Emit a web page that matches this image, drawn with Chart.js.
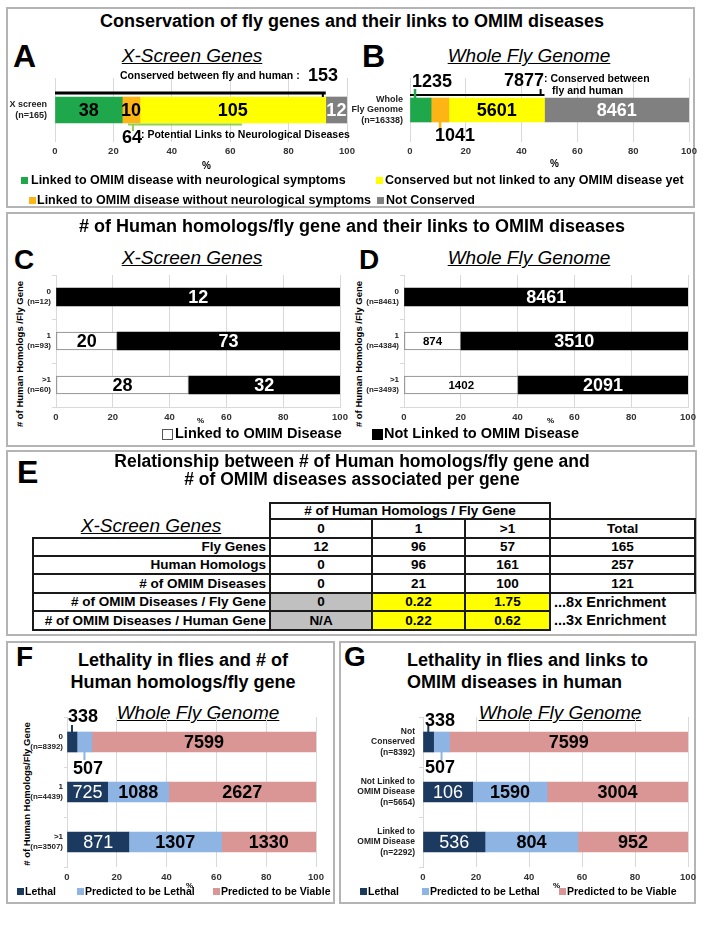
<!DOCTYPE html>
<html>
<head>
<meta charset="utf-8">
<script src="https://cdn.jsdelivr.net/npm/chart.js@4.4.0/dist/chart.umd.min.js"></script>
<style>
  body { margin: 0; background: #fff; font-family: "Liberation Sans", Arial, Helvetica, sans-serif; }
  #page { position: relative; width: 704px; height: 935px; overflow: hidden; background: #fff; }
  .box { position: absolute; border: 2px solid #b4b4b4; box-sizing: border-box; }
  .t { position: absolute; white-space: nowrap; line-height: 1; font-weight: bold; color: #000; }
  .sq { position: absolute; box-sizing: border-box; }
  canvas { position: absolute; }
  #tbl { position: absolute; left: 32px; top: 502px; width: 662px; border-collapse: collapse; table-layout: fixed;
         font-weight: bold; font-size: 13.5px; }
  #tbl td { padding: 0; line-height: 1; text-align: center; white-space: nowrap; overflow: visible; }
  #tbl td.b { border: 2px solid #1a1a1a; }
  #tbl td.lab { text-align: right; padding-right: 3px; }
  #tbl td.gray { background: #c0c0c0; }
  #tbl td.yel { background: #ffff00; }
  #tbl td.note { text-align: left; padding-left: 3px; border: none; font-size: 14.5px; }
</style>
</head>
<body>
<div id="page">
  <div class="box" style="left:6px;top:7px;width:689px;height:201px"></div>
  <div class="box" style="left:6px;top:212px;width:689px;height:235px"></div>
  <div class="box" style="left:6px;top:450px;width:691px;height:186px"></div>
  <div class="box" style="left:6px;top:641px;width:329px;height:263px"></div>
  <div class="box" style="left:339px;top:641px;width:357px;height:263px"></div>
</div>
<script>
// --- Data: panels A / B ---
const conservationSeries = [
  "Linked to OMIM disease with neurological symptoms",
  "Linked to OMIM disease without neurological symptoms",
  "Conserved but not linked to any OMIM disease yet",
  "Not Conserved"
];
const conservationColors = ["#1ea84b", "#fdb515", "#ffff00", "#808080"];
const xScreenCounts = [38, 10, 105, 12];      // n=165
const xScreenConserved = 153;
const xScreenNeuroLinks = 64;
const neuroLinkSpan = [25, 64, 26.7];         // % from, % to, tick
const genomeCounts = [1235, 1041, 5601, 8461]; // n=16338
const genomeConserved = 7877;
const genomeTicks = [1.8, 10.8];              // % positions of the small pointers

// --- Data: panels C / D ---
const homologCats = ["0", "1", ">1"];
const xScreenHomologN = [12, 93, 60];
const xScreenLinked = [0, 20, 28];
const xScreenNotLinked = [12, 73, 32];
const genomeHomologN = [8461, 4384, 3493];
const genomeLinked = [0, 874, 1402];
const genomeNotLinked = [8461, 3510, 2091];

// --- Data: panel E table ---
const tableHeads = ["0", "1", ">1", "Total"];
const tableRowNames = ["Fly Genes", "Human Homologs", "# of OMIM Diseases",
  "# of OMIM Diseases / Fly Gene", "# of OMIM Diseases / Human Gene"];
const tableFlyGenes = ["12", "96", "57", "165"];
const tableHumanHomologs = ["0", "96", "161", "257"];
const tableOmim = ["0", "21", "100", "121"];
const tableOmimPerFly = ["0", "0.22", "1.75", "...8x Enrichment"];
const tableOmimPerHuman = ["N/A", "0.22", "0.62", "...3x Enrichment"];

// --- Data: panels F / G ---
const lethalSeries = ["Lethal", "Predicted to be Lethal", "Predicted to be Viable"];
const lethalColors = ["#1c3a60", "#8db4e2", "#d99694"];
const fCats = ["0", "1", ">1"];
const fN = [8392, 4439, 3507];
const fLethal = [338, 725, 871];
const fPredLethal = [507, 1088, 1307];
const fViable = [7599, 2627, 1330];
const gCats = [["Not", "Conserved"], ["Not Linked to", "OMIM Disease"], ["Linked to", "OMIM Disease"]];
const gN = [8392, 5654, 2292];
const gLethal = [338, 1060, 536];
const gLethalText = ["338", "106", "536"];
const gPredLethal = [507, 1590, 804];
const gViable = [7599, 3004, 952];

// --- Helpers ---
const FONT = '"Liberation Sans", Arial, Helvetica, sans-serif';
Chart.defaults.font.family = FONT;
Chart.defaults.animation = false;
const page = document.getElementById("page");

function txt(s, x, cy, size, o = {}) {
  const d = document.createElement("div");
  d.className = "t";
  d.textContent = s;
  d.style.fontSize = size + "px";
  d.style.top = (cy - size * 0.52) + "px";
  if (o.align === "center") {
    d.style.left = x + "px";
    d.style.transform = "translateX(-50%)";
  } else if (o.align === "right") {
    d.style.right = (704 - x) + "px";
  } else {
    d.style.left = x + "px";
  }
  if (o.rotate) {
    d.style.top = cy + "px";
    d.style.transform = "translate(-50%,-50%) rotate(-90deg)";
  }
  if (o.italic) { d.style.fontStyle = "italic"; d.style.fontWeight = "normal"; }
  if (o.underline) d.style.textDecoration = "underline";
  if (o.normal) d.style.fontWeight = "normal";
  page.appendChild(d);
  return d;
}

function sq(x, cy, size, color, border) {
  const d = document.createElement("div");
  d.className = "sq";
  d.style.left = x + "px";
  d.style.top = (cy - size / 2) + "px";
  d.style.width = size + "px";
  d.style.height = size + "px";
  d.style.background = color;
  if (border) d.style.border = "1px solid " + border;
  page.appendChild(d);
}

function toPct(seriesList) {
  const n = seriesList[0].length;
  const sums = [];
  for (let j = 0; j < n; j++) sums.push(seriesList.reduce((a, s) => a + s[j], 0));
  return seriesList.map(s => s.map((v, j) => v / sums[j] * 100));
}

const sum = arr => arr.reduce((a, b) => a + b, 0);

// text centred on each bar segment
const barText = {
  id: "barText",
  afterDatasetsDraw(chart) {
    const ctx = chart.ctx;
    chart.data.datasets.forEach((ds, i) => {
      if (!ds.texts) return;
      chart.getDatasetMeta(i).data.forEach((bar, j) => {
        const t = ds.texts[j];
        if (!t) return;
        ctx.save();
        ctx.font = ds.tFont || "bold 18px " + FONT;
        ctx.fillStyle = ds.tColor || "#000";
        ctx.textAlign = "center";
        ctx.textBaseline = "middle";
        ctx.fillText(t, (bar.x + bar.base) / 2, bar.y + 1);
        ctx.restore();
      });
    });
  }
};

// brackets and pointer ticks, placed in % units on the x scale
const callouts = {
  id: "callouts",
  afterDatasetsDraw(chart, args, o) {
    if (!o.lines || !o.lines.length) return;
    const ctx = chart.ctx;
    const xs = chart.scales.x;
    const bar = chart.getDatasetMeta(0).data[0];
    const top = bar.y - bar.height / 2;
    const bottom = bar.y + bar.height / 2;
    o.lines.forEach(l => {
      const ref = l.edge === "bottom" ? bottom : top;
      ctx.save();
      ctx.strokeStyle = l.color;
      ctx.lineWidth = l.width || 2;
      ctx.beginPath();
      if (l.to !== undefined) {
        ctx.moveTo(xs.getPixelForValue(l.from), ref + l.dy);
        ctx.lineTo(xs.getPixelForValue(l.to), ref + l.dy);
      } else {
        const x = xs.getPixelForValue(l.at);
        ctx.moveTo(x, ref + l.y1);
        ctx.lineTo(x, ref + l.y2);
      }
      ctx.stroke();
      ctx.restore();
    });
  }
};

function hbar(box, labels, datasets, lines) {
  const c = document.createElement("canvas");
  c.width = box.x1 - box.x0 + box.yw + 16;
  c.height = box.y1 - box.y0 + box.xh;
  c.style.left = (box.x0 - box.yw) + "px";
  c.style.top = box.y0 + "px";
  page.appendChild(c);
  return new Chart(c, {
    type: "bar",
    data: {
      labels,
      datasets: datasets.map(d => Object.assign({ barThickness: box.bar, borderSkipped: false, borderWidth: 0 }, d))
    },
    options: {
      indexAxis: "y",
      responsive: false,
      animation: false,
      layout: { padding: { left: 0, right: 16, top: 0, bottom: 0 } },
      plugins: {
        legend: { display: false },
        tooltip: { enabled: false },
        callouts: { lines: lines || [] }
      },
      scales: {
        x: {
          stacked: true, min: 0, max: 100,
          ticks: { stepSize: 20, padding: box.tp, color: "#333", font: { size: 9.5, weight: "bold" }, maxRotation: 0 },
          grid: { color: "#d9d9d9", drawTicks: false },
          border: { display: !!box.xBorder, color: "#d9d9d9" },
          afterFit(s) { s.height = box.xh; s.paddingLeft = 0; s.paddingRight = 0; }
        },
        y: {
          stacked: true,
          ticks: { padding: box.lp, color: "#222", font: { size: box.lf, weight: "bold", lineHeight: box.lh || 1.2 }, autoSkip: false },
          grid: { drawOnChartArea: false, drawTicks: box.tl > 0, tickLength: box.tl || 0, color: "#d9d9d9" },
          border: { display: box.yBorder !== false, color: "#d9d9d9" },
          afterFit(s) { s.width = box.yw; s.paddingTop = 0; s.paddingBottom = 0; }
        }
      }
    },
    plugins: [barText, callouts]
  });
}

// ================= Panel A / B =================
txt("Conservation of fly genes and their links to OMIM diseases", 352, 21, 18, { align: "center" });
txt("A", 13, 57, 32);
txt("B", 362, 57, 32);
txt("X-Screen Genes", 192, 56, 19, { align: "center", italic: true, underline: true });
txt("Whole Fly Genome", 529, 56, 19, { align: "center", italic: true, underline: true });

const aPct = toPct(xScreenCounts.map(v => [v]));
const aConsPct = xScreenConserved / sum(xScreenCounts) * 100;
hbar({ x0: 55, x1: 347, y0: 78, y1: 142, yw: 54, xh: 22, tp: 4, lp: 8, lf: 9, tl: 0, bar: 26, yBorder: false },
  [["X screen", "(n=" + sum(xScreenCounts) + ")"]],
  conservationSeries.map((name, i) => ({
    label: name, data: aPct[i], backgroundColor: conservationColors[i],
    texts: [String(xScreenCounts[i])], tColor: i === 3 ? "#fff" : "#000"
  })),
  [
    { from: 0, to: aConsPct, edge: "top", dy: -4, color: "#000", width: 3 },
    { at: aConsPct - 1, edge: "top", y1: -4, y2: 0, color: "#000", width: 2 },
    { from: neuroLinkSpan[0], to: neuroLinkSpan[1], edge: "bottom", dy: 1.5, color: "#92d050", width: 2 },
    { at: neuroLinkSpan[2], edge: "bottom", y1: 1.5, y2: 8, color: "#92d050", width: 2 }
  ]);
txt("Conserved between fly and human :", 120, 75, 10.5);
txt(String(xScreenConserved), 308, 75, 18);
txt(String(xScreenNeuroLinks), 122, 137, 18);
txt(": Potential Links to Neurological Diseases", 141, 134, 10.5);
txt("%", 202, 166, 10);

const bPct = toPct(genomeCounts.map(v => [v]));
const bConsPct = genomeConserved / sum(genomeCounts) * 100;
hbar({ x0: 410, x1: 689, y0: 78, y1: 142, yw: 60, xh: 22, tp: 4, lp: 7, lf: 9, tl: 0, bar: 24, lh: 1.15, yBorder: false },
  [["Whole", "Fly Genome", "(n=" + sum(genomeCounts) + ")"]],
  conservationSeries.map((name, i) => ({
    label: name, data: bPct[i], backgroundColor: conservationColors[i],
    texts: [i >= 2 ? String(genomeCounts[i]) : ""], tColor: i === 3 ? "#fff" : "#000"
  })),
  [
    { from: 0, to: bConsPct, edge: "top", dy: -3, color: "#000", width: 2 },
    { at: bConsPct - 1.4, edge: "top", y1: -9, y2: -3, color: "#000", width: 2 },
    { at: genomeTicks[0], edge: "top", y1: -9, y2: 0, color: conservationColors[0], width: 2.5 },
    { at: genomeTicks[1], edge: "bottom", y1: 0, y2: 6, color: conservationColors[1], width: 2.5 }
  ]);
txt(String(genomeCounts[0]), 412, 81, 18);
txt(String(genomeConserved), 504, 80, 18);
txt(": Conserved between", 544, 78, 10.5);
txt("fly and human", 552, 90, 10.5);
txt(String(genomeCounts[1]), 435, 135, 18);
txt("%", 550, 164, 10);

// legend
sq(21, 180, 7, conservationColors[0]);
txt(conservationSeries[0], 31, 180, 12.5);
sq(29, 200, 7, conservationColors[1]);
txt(conservationSeries[1], 37, 200, 12.5);
sq(376, 180, 7, conservationColors[2]);
txt(conservationSeries[2], 385, 180, 12.5);
sq(377, 200, 7, conservationColors[3]);
txt(conservationSeries[3], 386, 200, 12.5);

// ================= Panel C / D =================
txt("# of Human homologs/fly gene and their links to OMIM diseases", 352, 226, 18, { align: "center" });
txt("C", 14, 261, 28);
txt("D", 359, 261, 28);
txt("X-Screen Genes", 192, 258, 19, { align: "center", italic: true, underline: true });
txt("Whole Fly Genome", 529, 258, 19, { align: "center", italic: true, underline: true });
txt("# of Human Homologs /Fly Gene", 20, 354, 9.5, { rotate: true });
txt("# of Human Homologs /Fly Gene", 359, 354, 9.5, { rotate: true });

function linkSets(linked, notLinked, smallLinked) {
  const p = toPct([linked, notLinked]);
  return [
    { label: "Linked to OMIM Disease", data: p[0], backgroundColor: "#fff", borderColor: "#7f7f7f", borderWidth: 1,
      texts: linked.map(v => v ? String(v) : ""), tColor: "#000",
      tFont: (smallLinked ? "bold 11.5px " : "bold 18px ") + FONT },
    { label: "Not Linked to OMIM Disease", data: p[1], backgroundColor: "#000",
      texts: notLinked.map(v => v ? String(v) : ""), tColor: "#fff", tFont: "bold 18px " + FONT }
  ];
}
hbar({ x0: 56, x1: 340, y0: 275, y1: 407, yw: 46, xh: 22, tp: 5, lp: 1, lf: 8, tl: 4, bar: 18, xBorder: true },
  homologCats.map((c, i) => [c, "(n=" + xScreenHomologN[i] + ")"]),
  linkSets(xScreenLinked, xScreenNotLinked, false));
hbar({ x0: 404, x1: 688, y0: 275, y1: 407, yw: 46, xh: 22, tp: 5, lp: 1, lf: 8, tl: 4, bar: 18, xBorder: true },
  homologCats.map((c, i) => [c, "(n=" + genomeHomologN[i] + ")"]),
  linkSets(genomeLinked, genomeNotLinked, true));
txt("%", 197, 421, 8);
txt("%", 547, 421, 8);
sq(162, 434, 11, "#fff", "#555");
txt("Linked to OMIM Disease", 175, 434, 14.5);
sq(372, 434, 11, "#000");
txt("Not Linked to OMIM Disease", 384, 434, 14.5);

// ================= Panel E =================
txt("E", 17, 473, 32);
txt("Relationship between # of Human homologs/fly gene and", 352, 462, 17.5, { align: "center" });
txt("# of OMIM diseases associated per gene", 352, 480, 17.5, { align: "center" });

(function buildTable() {
  const widths = [237, 102, 93, 85, 145];
  const heights = [16, 19, 18, 18, 19, 18, 19];
  const rows = [tableFlyGenes, tableHumanHomologs, tableOmim, tableOmimPerFly, tableOmimPerHuman];
  let h = "<colgroup>" + widths.map(w => `<col style="width:${w}px">`).join("") + "</colgroup>";
  h += `<tr style="height:${heights[0]}px"><td rowspan="2" style="vertical-align:bottom;padding-bottom:2px;font-weight:normal;font-style:italic;font-size:19px;text-decoration:underline">X-Screen Genes</td>` +
       `<td colspan="3" class="b">${"# of Human Homologs / Fly Gene"}</td><td></td></tr>`;
  h += `<tr style="height:${heights[1]}px">` + tableHeads.map(c => `<td class="b">${c}</td>`).join("") + "</tr>";
  rows.forEach((vals, r) => {
    const ratio = r >= 3;
    h += `<tr style="height:${heights[r + 2]}px"><td class="b lab">${tableRowNames[r]}</td>`;
    vals.forEach((v, k) => {
      let cls = "b";
      if (ratio && k === 0) cls += " gray";
      if (ratio && (k === 1 || k === 2)) cls += " yel";
      if (ratio && k === 3) cls = "note";
      h += `<td class="${cls}">${v}</td>`;
    });
    h += "</tr>";
  });
  const t = document.createElement("table");
  t.id = "tbl";
  t.innerHTML = h;
  page.appendChild(t);
})();

// ================= Panel F / G =================
txt("F", 16, 658, 28);
txt("G", 344, 658, 28);
txt("Lethality in flies and # of", 183, 660, 18, { align: "center" });
txt("Human homologs/fly gene", 183, 682, 18, { align: "center" });
txt("Lethality in flies and links to", 407, 660, 18);
txt("OMIM diseases in human", 407, 682, 18);
txt("Whole Fly Genome", 198, 713, 19, { align: "center", italic: true, underline: true });
txt("Whole Fly Genome", 560, 713, 19, { align: "center", italic: true, underline: true });
txt("# of Human Homologs/Fly Gene", 27, 794, 9.5, { rotate: true });

function lethalSets(lethal, pred, viable, lethalText) {
  const p = toPct([lethal, pred, viable]);
  return [
    { label: lethalSeries[0], data: p[0], backgroundColor: lethalColors[0],
      texts: lethalText.map((v, j) => j === 0 ? "" : v), tColor: "#fff", tFont: "18px " + FONT },
    { label: lethalSeries[1], data: p[1], backgroundColor: lethalColors[1],
      texts: pred.map((v, j) => j === 0 ? "" : String(v)), tColor: "#000", tFont: "bold 18px " + FONT },
    { label: lethalSeries[2], data: p[2], backgroundColor: lethalColors[2],
      texts: viable.map(v => String(v)), tColor: "#000", tFont: "bold 18px " + FONT }
  ];
}
function lethalPointers(lethal, pred, viable) {
  const total = lethal[0] + pred[0] + viable[0];
  const lc = lethal[0] / 2 / total * 100;
  const pc = (lethal[0] + pred[0] / 2) / total * 100;
  return [
    { at: lc, edge: "top", y1: -7, y2: 0, color: lethalColors[0], width: 2 },
    { at: pc, edge: "bottom", y1: 0, y2: 8, color: lethalColors[1], width: 2 }
  ];
}
hbar({ x0: 67, x1: 316, y0: 717, y1: 867, yw: 50, xh: 20, tp: 5, lp: 1, lf: 8, tl: 3, bar: 20 },
  fCats.map((c, i) => [c, "(n=" + fN[i] + ")"]),
  lethalSets(fLethal, fPredLethal, fViable, fLethal.map(String)),
  lethalPointers(fLethal, fPredLethal, fViable));
hbar({ x0: 423, x1: 688, y0: 717, y1: 867, yw: 70, xh: 20, tp: 5, lp: 4, lf: 8.5, tl: 4, bar: 20 },
  gCats.map((c, i) => c.concat(["(n=" + gN[i] + ")"])),
  lethalSets(gLethal, gPredLethal, gViable, gLethalText),
  lethalPointers(gLethal, gPredLethal, gViable));
txt(String(fLethal[0]), 68, 716, 18);
txt(String(fPredLethal[0]), 73, 768, 18);
txt(String(gLethal[0]), 425, 720, 18);
txt(String(gPredLethal[0]), 425, 767, 18);

// legends F / G
[[17, 77, 213], [360, 422, 559]].forEach(xs => {
  lethalSeries.forEach((name, i) => {
    sq(xs[i], 891, 7, lethalColors[i]);
    txt(name, xs[i] + 8, 891, 10.5);
  });
});
txt("%", 186, 886, 8);
txt("%", 553, 886, 8);
</script>
</body>
</html>
